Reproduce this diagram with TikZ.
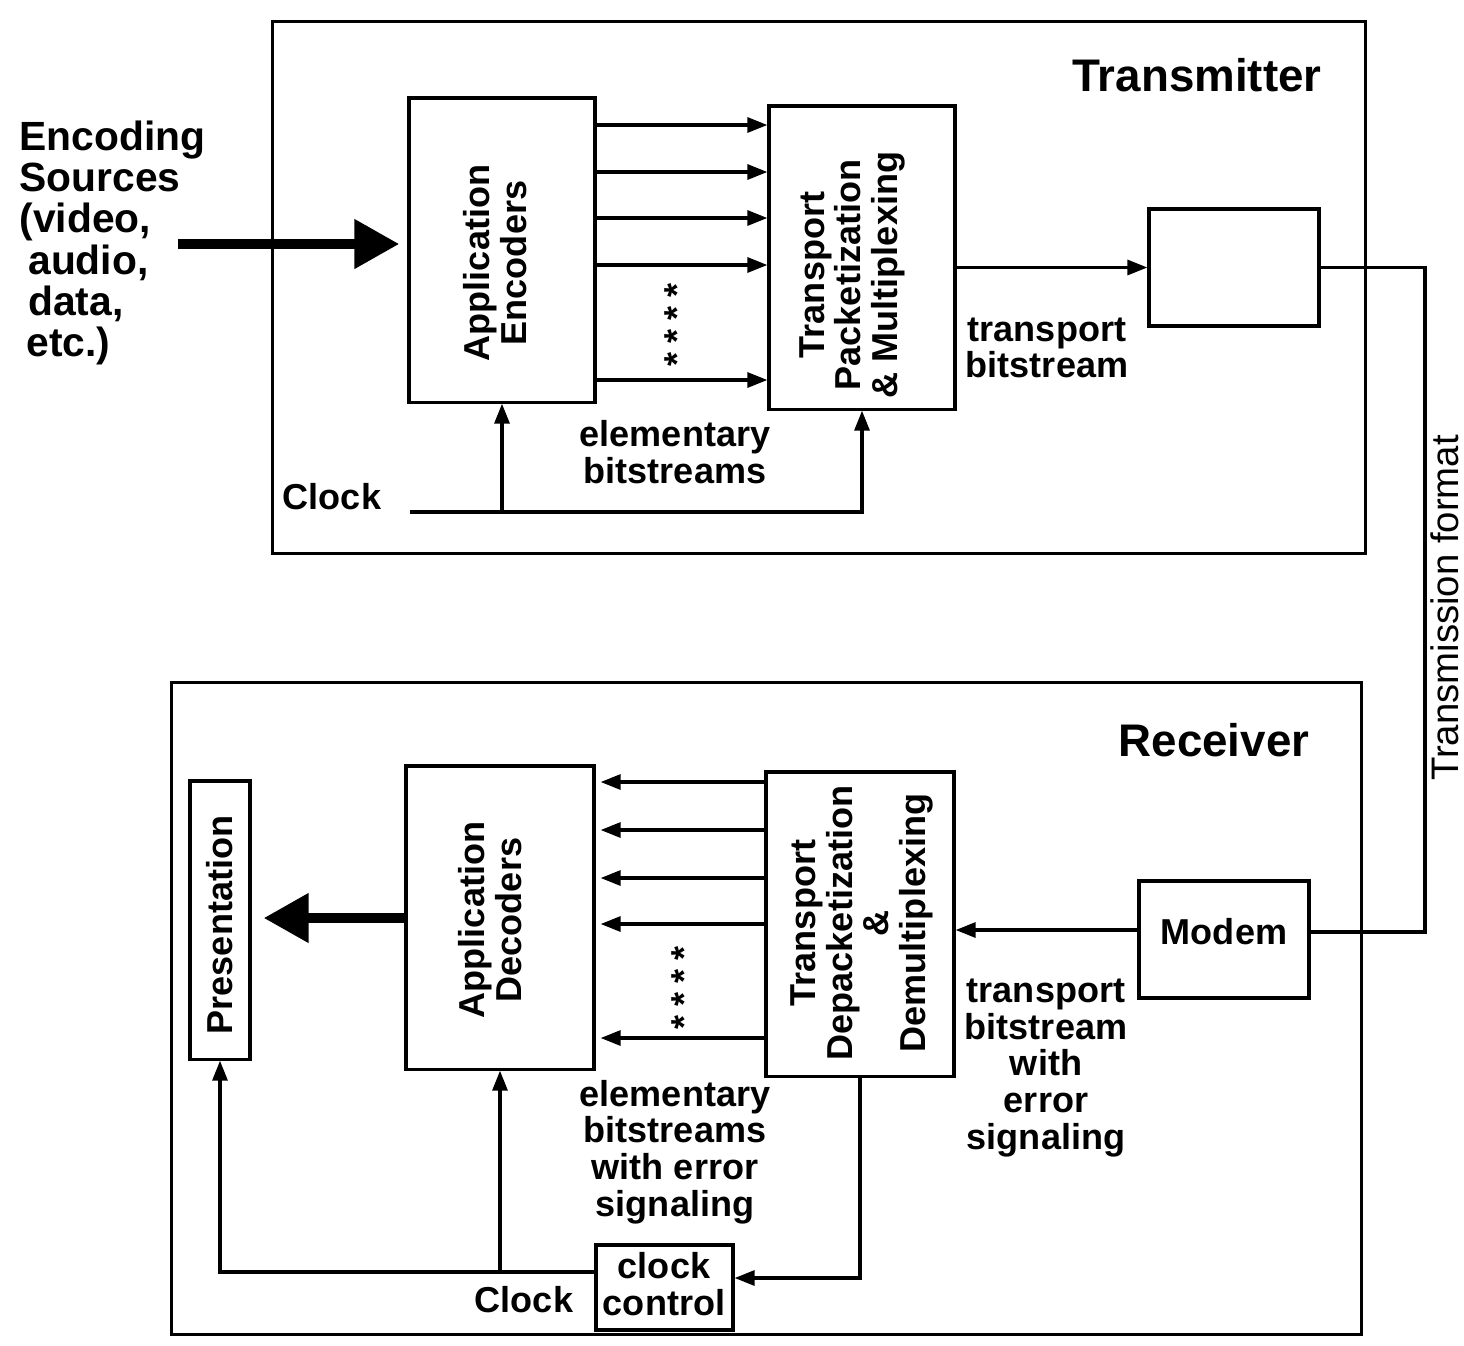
\documentclass[tikz,border=0pt]{standalone}
\usepackage{fontspec}
\setmainfont{Liberation Sans}
\usetikzlibrary{arrows.meta}
\newcommand\txtfont{\fontsize{10.25}{10.4}\selectfont\bfseries}
\newcommand\bigfont{\fontsize{11.6}{11.75}\selectfont\bfseries}
\newcommand\headfont{\fontsize{13}{14}\selectfont\bfseries}
\newcommand\fmtfont{\fontsize{10.9}{12}\selectfont}
\begin{document}
\begin{tikzpicture}[x=0.01cm,y=-0.01cm, line width=0.9pt,
  box/.style={draw, rectangle, inner sep=0pt},
  lbl/.style={font=\txtfont, align=center, inner sep=0pt},
  rlbl/.style={lbl, rotate=90},
  arr/.style={-{Triangle[length=2mm,width=1.5mm]}},
  bigarr/.style={line width=3pt, -{Triangle[length=4.5mm,width=4.7mm]}}]

\useasboundingbox (0,0) rectangle (1464,1345);

% ---------------- Transmitter ----------------
\node[box, minimum width=10.92cm, minimum height=5.31cm] (txframe) at (819,287.5) {};
\node[font=\headfont, inner sep=0pt] (txtitle) at (1197,75) {Transmitter};

\node[box, minimum width=1.86cm, minimum height=3.04cm] (ae) at (502,250) {};
\node[rlbl] (aetext) at (495,263) {Application\\Encoders};

\node[box, minimum width=1.86cm, minimum height=3.03cm] (tp) at (862,257.5) {};
\node[rlbl] (tptext) at (852,275) {Transport\\Packetization\\\& Multiplexing};

\foreach \y in {125,172,218,265,380}
  \draw[arr] (ae.east |- 0,\y) -- (tp.west |- 0,\y);
\node[rlbl] (txdots) at (677,325) {*\hspace{2.6pt}*\hspace{2.6pt}*\hspace{2.6pt}*};

\coordinate (src) at (178,244);
\draw[bigarr, shorten >=0.8mm] (src) -- (ae.west |- src);
\node[font=\bigfont, align=left, anchor=north west, inner sep=0pt] (srctext) at (18,119)
  {Encoding\\Sources\\(video,\\\hspace*{2.5pt}audio,\\\hspace*{2.5pt}data,\\\hspace*{2pt}etc.)};

\node[lbl] (txclock) at (332,497) {Clock};
\coordinate (clk) at (410,512);
\draw[arr] (clk) -| (tp.south);
\draw[arr] (ae.south |- clk) -- (ae.south);

\node[lbl] (ebl) at (675,452) {elementary\\bitstreams};

\node[box, minimum width=1.70cm, minimum height=1.17cm] (tbox) at (1234,267.5) {};
\draw[arr] (tp.east |- tbox.west) -- (tbox.west);
\node[lbl] (tbl) at (1047,348) {transport\\bitstream};

% ---------------- Receiver ----------------
\node[box, minimum width=11.89cm, minimum height=6.51cm] (rxframe) at (766.5,1008.5) {};
\node[font=\headfont, inner sep=0pt] (rxtitle) at (1214,740) {Receiver};

\node[box, minimum width=0.60cm, minimum height=2.78cm] (pres) at (220,920) {};
\node[rlbl] (prestext) at (220,925) {Presentation};

\node[box, minimum width=1.88cm, minimum height=3.03cm] (ad) at (500,917.5) {};
\node[rlbl] (adtext) at (490,920) {Application\\Decoders};

\node[box, minimum width=1.88cm, minimum height=3.04cm] (td) at (860,924) {};
\node[rlbl] (tdtext) at (862,923) {Transport\\Depacketization\\\&\\Demultiplexing};

\foreach \y in {782,830,878,924,1038}
  \draw[arr, shorten >=0.5mm] (td.west |- 0,\y) -- (ad.east |- 0,\y);
\node[rlbl] (rxdots) at (684,988) {*\hspace{2.6pt}*\hspace{2.6pt}*\hspace{2.6pt}*};

\draw[bigarr, shorten >=1.2mm] (ad.west |- 0,918) -- (pres.east |- 0,918);

\node[box, minimum width=1.70cm, minimum height=1.17cm] (modem) at (1224,939.5) {};
\node[lbl] (modemtext) at (1224,932) {Modem};
\draw[arr] (modem.west |- 0,930) -- (td.east |- 0,930);
\node[lbl] (tbel) at (1046,1068) {transport\\bitstream\\with\\error\\signaling};

\coordinate (tfx) at (1425,600);
\draw (tbox.east) -| (tfx) |- (modem.east |- 0,932);
\node[font=\fmtfont, rotate=90, inner sep=0pt] (tftext) at (1445,608) {Transmission format};

\node[box, minimum width=1.37cm, minimum height=0.85cm] (cc) at (664.5,1287.5) {};
\node[lbl] (cctext) at (664,1284) {clock\\control};
\draw[arr] (td.south) |- (cc.east |- 0,1278);
\coordinate (ccl) at (596,1272);
\draw[arr] (cc.west |- ccl) -| (pres.south);
\draw[arr] (ad.south |- ccl) -- (ad.south);
\node[lbl] (rxclock) at (524,1300) {Clock};
\node[lbl] (ebel) at (675,1152) {elementary\\bitstreams\\with error\\signaling};

\end{tikzpicture}
\end{document}
